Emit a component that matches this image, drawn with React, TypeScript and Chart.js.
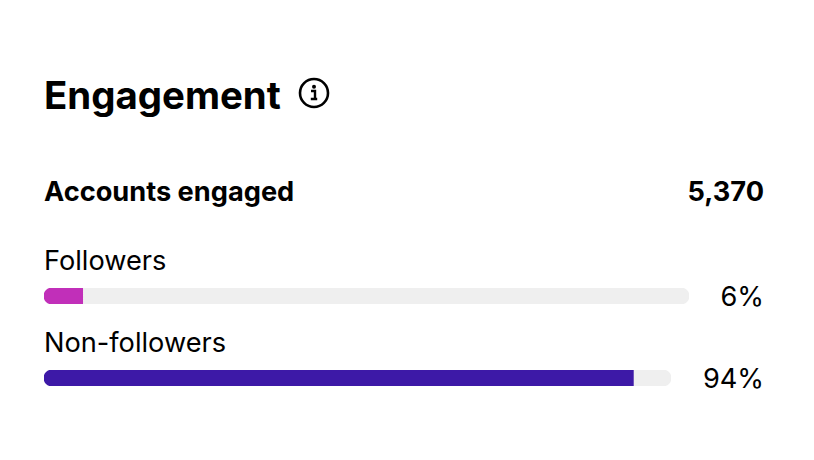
import React, { useEffect, useRef } from "react";
import { Chart, registerables } from "chart.js";

Chart.register(...registerables);

const categories = ["Followers", "Non-followers"];
const shares = [6, 94];
const trackMax = [100, 100];
const shareLabels = ["6%", "94%"];
const fillColors = ["#c12fb9", "#3d19a7"];
const trackColor = "#efefef";
const trackBoxes = [
  { top: 288, width: 645 },
  { top: 370, width: 627 },
];
const labelTops = [245, 327];
const valueTops = [281, 363];
const heading = "Engagement";
const totalLabel = "Accounts engaged";
const totalValue = "5,370";

function Bar({ index }: { index: number }) {
  const ref = useRef<HTMLCanvasElement>(null);
  useEffect(() => {
    const chart = new Chart(ref.current!, {
      type: "bar",
      data: {
        labels: [categories[index]],
        datasets: [
          {
            label: "Share",
            data: [shares[index]],
            backgroundColor: fillColors[index],
            borderRadius: { topLeft: 8, bottomLeft: 8, topRight: 0, bottomRight: 0 },
            borderSkipped: false,
            barThickness: 16,
            order: 1,
          },
          {
            label: "Track",
            data: [trackMax[index]],
            backgroundColor: trackColor,
            borderRadius: 8,
            borderSkipped: false,
            barThickness: 16,
            order: 2,
          },
        ],
      },
      options: {
        indexAxis: "y",
        responsive: false,
        animation: false,
        maintainAspectRatio: false,
        layout: { padding: 0 },
        datasets: { bar: { grouped: false } },
        plugins: { legend: { display: false }, tooltip: { enabled: false }, title: { display: false } },
        scales: {
          x: { display: false, min: 0, max: 100 },
          y: { display: false },
        },
      },
    });
    return () => chart.destroy();
  }, [index]);
  return (
    <canvas
      ref={ref}
      width={trackBoxes[index].width}
      height={16}
      style={{ position: "absolute", left: 44, top: trackBoxes[index].top, width: trackBoxes[index].width, height: 16 }}
    />
  );
}

const text = (top: number, size: number, weight: number): React.CSSProperties => ({
  position: "absolute",
  top,
  fontSize: size,
  fontWeight: weight,
  lineHeight: "32px",
  color: "#000",
  whiteSpace: "nowrap",
});

export default function App() {
  return (
    <div style={{ position: "absolute", left: 0, top: 0, width: 814, height: 460, background: "#fff", fontFamily: "Inter, sans-serif" }}>
      <div style={{ ...text(79, 38.4, 700), left: 44 }}>{heading}</div>
      <svg width="32" height="32" viewBox="0 0 32 32" style={{ position: "absolute", left: 298, top: 77 }}>
        <circle cx="16" cy="16" r="14" fill="none" stroke="#000" strokeWidth="2.6" />
        <circle cx="16" cy="9.8" r="2" fill="#000" />
        <path d="M13 14h4v8h2.2M12.8 22h6.4" fill="none" stroke="#000" strokeWidth="2.4" />
      </svg>
      <div style={{ ...text(176, 27.2, 700), left: 44 }}>{totalLabel}</div>
      <div style={{ ...text(176, 27.2, 700), right: 814 - 764 }}>{totalValue}</div>
      {categories.map((c, i) => (
        <React.Fragment key={c}>
          <div style={{ ...text(labelTops[i], 27.2, 400), left: 44 }}>{c}</div>
          <Bar index={i} />
          <div style={{ ...text(valueTops[i], 27.2, 400), right: 814 - 764 }}>{shareLabels[i]}</div>
        </React.Fragment>
      ))}
    </div>
  );
}
